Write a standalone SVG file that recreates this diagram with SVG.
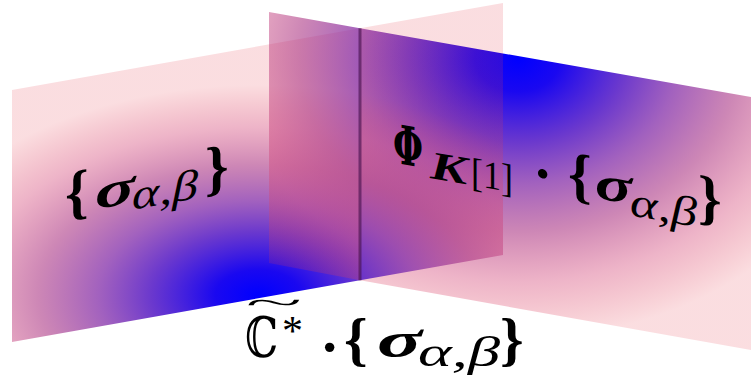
<svg xmlns="http://www.w3.org/2000/svg" width="751" height="383" viewBox="0 0 751 383">
  <style>
    text { font-family: "Liberation Serif", "DejaVu Serif", serif; fill: #000; }
    .br { font-weight: bold; font-size: 60px; }
    .sg { font-weight: bold; font-style: italic; font-size: 50px; }
    .sb { font-style: italic; font-size: 42px; }
    .ph { font-family: "DejaVu Serif", serif; font-weight: bold; font-size: 54px; }
    .kb { font-weight: bold; font-style: italic; font-size: 40px; }
    .rg { font-size: 40px; }
    .dt { font-size: 58px; font-weight: bold; }
  </style>
  <defs>
    <radialGradient id="gA" gradientUnits="userSpaceOnUse" cx="0" cy="0" r="355" gradientTransform="translate(258 295) scale(1 0.5915)">
      <stop offset="0" stop-color="#0000ff" stop-opacity="1"/>
      <stop offset="0.12" stop-color="#1a08f0" stop-opacity="1"/>
      <stop offset="0.3" stop-color="#5a22c8" stop-opacity="0.9"/>
      <stop offset="0.45" stop-color="#8530aa" stop-opacity="0.76"/>
      <stop offset="0.62" stop-color="#ac3785" stop-opacity="0.6"/>
      <stop offset="0.8" stop-color="#d44476" stop-opacity="0.4"/>
      <stop offset="1" stop-color="#e63a4a" stop-opacity="0.17"/>
    </radialGradient>
    <radialGradient id="gB" gradientUnits="userSpaceOnUse" cx="0" cy="0" r="355" gradientTransform="translate(518 58) scale(1 0.79)">
      <stop offset="0" stop-color="#0000ff" stop-opacity="1"/>
      <stop offset="0.12" stop-color="#1a08f0" stop-opacity="1"/>
      <stop offset="0.3" stop-color="#5a22c8" stop-opacity="0.9"/>
      <stop offset="0.45" stop-color="#8530aa" stop-opacity="0.76"/>
      <stop offset="0.62" stop-color="#ac3785" stop-opacity="0.6"/>
      <stop offset="0.8" stop-color="#d44476" stop-opacity="0.4"/>
      <stop offset="1" stop-color="#e63a4a" stop-opacity="0.17"/>
    </radialGradient>
  </defs>

  <g id="planes">
    <polygon id="planeA-left" points="12,90 360,28.3 360,280.3 12,342" fill="url(#gA)"/>
    <polygon id="planeB-left" points="269,12 360,28.3 360,280.3 269,263" fill="url(#gB)"/>
    <polygon id="planeB-right" points="360,28.3 751,97 751,350 360,280.3" fill="url(#gB)"/>
    <polygon id="planeA-right" points="360,28.3 503,3 503,255 360,280.3" fill="url(#gA)"/>
    <line id="intersection" x1="360" y1="28.3" x2="360" y2="280.3" stroke="#4a1450" stroke-opacity="0.65" stroke-width="3"/>
  </g>

  <g id="label-A">
    <text transform="translate(65 214.5) skewY(-10)"><tspan class="br" x="0" y="0">{</tspan><tspan class="sg" x="30" y="0" textLength="40" lengthAdjust="spacingAndGlyphs">σ</tspan><tspan class="sb" x="67" y="7" textLength="66" lengthAdjust="spacingAndGlyphs">α,β</tspan><tspan class="br" x="140" y="0">}</tspan></text>
  </g>

  <g id="label-B">
    <text transform="translate(393 162.5) skewY(10)"><tspan class="ph" x="0" y="0" textLength="30" lengthAdjust="spacingAndGlyphs">Φ</tspan><tspan class="kb" x="37" y="9" textLength="37" lengthAdjust="spacingAndGlyphs">K</tspan><tspan class="rg" x="78" y="9" textLength="42" lengthAdjust="spacingAndGlyphs">[1]</tspan><tspan class="dt" x="140" y="4">·</tspan><tspan class="br" x="175" y="0">{</tspan><tspan class="sg" x="202" y="0" textLength="37" lengthAdjust="spacingAndGlyphs">σ</tspan><tspan class="sb" x="237" y="11" textLength="67" lengthAdjust="spacingAndGlyphs">α,β</tspan><tspan class="br" x="305" y="0">}</tspan></text>
  </g>

  <g id="label-C">
    <text x="274" y="313" text-anchor="middle" font-size="30" transform="translate(274 0) scale(3.5 1) translate(-274 0)">~</text>
    <text><tspan x="245" y="357" font-family="DejaVu Serif, serif" font-size="56" textLength="33" lengthAdjust="spacingAndGlyphs">ℂ</tspan><tspan x="282" y="345" font-size="42">*</tspan><tspan class="dt" x="320" y="366">·</tspan><tspan class="br" x="344" y="359">{</tspan><tspan class="sg" x="377" y="357" textLength="45" lengthAdjust="spacingAndGlyphs">σ</tspan><tspan class="sb" x="418" y="366" textLength="82" lengthAdjust="spacingAndGlyphs">α,β</tspan><tspan class="br" x="500" y="359">}</tspan></text>
  </g>
</svg>
